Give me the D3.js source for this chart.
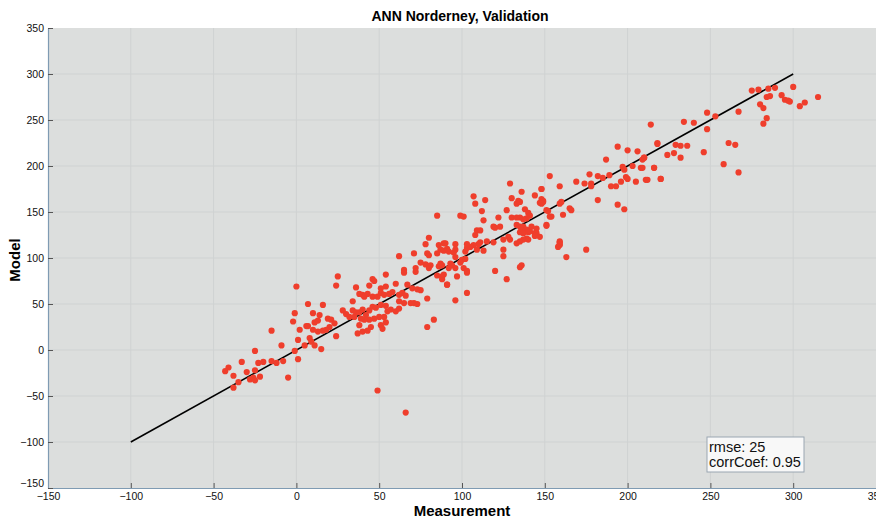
<!DOCTYPE html>
<html>
<head>
<meta charset="utf-8">
<script src="https://cdn.jsdelivr.net/npm/d3@7"></script>
<style>
  body { margin: 0; background: #fff; }
  svg { display: block; }
</style>
</head>
<body>
<div id="container"></div>
<script>
const measurement = [
  7, 16, -1, 10, 14, -2, 6, 7, 11, 13, 19, 20, 18, 16, 13, 10, 2, -15,
  1, 8, 9, 5, 11, 15, -9, -25, -1, 1, -33, -23, -20, -15, -12, -8, -41, -43,
  -30, -25, -22, -28, -26, -25, -38, -35, -38, -5,
  78, 86, 90, 91, 62, 71, 79, 80, 85, 75, 78, 81, 80, 86, 87, 65, 72, 83, 49, 66,
  85, 88, 91, 88, 0, 85, 80,
  25, 46, 47, 54, 65, 72,
  24, 36, 44, 51, 54, 60, 67, 70, 73, 75, 79,
  34, 38, 40, 41, 43, 46, 49, 51, 53, 56, 58, 62, 64, 66, 69, 71, 73, 65, 62,
  28, 30, 34, 36, 38, 40, 42, 44, 46, 48, 51, 54, 55, 57, 60, 62, 53, 50, 47, 44, 41, 39, 35, 32,
  21, 23, 38, 45, 51, 54, 52,
  40, 37, 43, 24, 79,
  129, 107, 108, 114, 99, 101, 112, 113, 109, 111, 108, 130, 134, 133, 135, 136, 144, 148, 147, 149,
  138, 127, 140, 141, 139, 137, 135, 130, 133, 122, 119, 120, 123, 133, 135, 137, 139, 136, 135, 137,
  140, 141, 142, 145, 144, 145, 139, 137, 140, 133, 135, 144, 147, 151, 154, 159, 159, 159, 151, 129,
  128, 125, 125, 125, 119, 115, 111, 110, 107, 105, 103, 113, 109, 103, 102, 96, 96, 95, 96, 89,
  87, 89, 92, 93, 94, 96, 92, 100, 102, 101, 103, 103, 99, 88, 89, 97, 91, 103, 96, 120,
  127, 135, 136,
  194, 200, 206, 187, 210, 209, 218, 197, 198, 203, 208, 216, 177, 182, 185, 189, 169, 174, 178, 178,
  196, 199, 200, 205, 211, 220, 190, 193, 153, 159, 148, 148, 149, 148, 160, 182, 152, 153, 151, 161,
  165, 166, 194, 198, 159, 159, 158, 163, 175,
  248, 253, 267, 214, 234, 240, 248, 218, 229, 232, 236, 224, 228, 232, 246, 210, 209, 216, 212, 220,
  261, 265, 258, 267,
  275, 279, 285, 289, 300, 284, 286, 280, 293, 295, 297, 298, 307, 304, 315, 282, 284, 282
];
const model = [
  50, 49, 40, 40, 38, 31, 26, 26, 30, 32, 34, 25, 22, 21, 20, 22, 22, 21,
  11, 13, 9, 5, 5, 1, 5, -1, -1, -10, -13, -14, -13, -12, -14, -12, -19, -23,
  -24, -22, -29, -32, -30, -33, -28, -35, -41, -30,
  115, 114, 116, 110, 102, 105, 105, 103, 105, 95, 93, 92, 89, 91, 94, 87, 89, 33, -44, -68,
  81, 80, 71, 77, 69, 146, 122,
  80, 77, 75, 82, 84, 85,
  70, 68, 70, 67, 69, 72, 71, 67, 66, 65, 56,
  53, 61, 60, 58, 61, 58, 58, 62, 60, 61, 63, 60, 62, 59, 51, 51, 50, 51, 53,
  43, 39, 43, 41, 41, 44, 38, 43, 47, 46, 49, 48, 42, 44, 42, 45, 36, 36, 34, 33, 33, 34, 36, 36,
  33, 29, 27, 25, 27, 30, 23,
  20, 18, 21, 15, 25,
  181, 167, 159, 163, 146, 145, 151, 141, 130, 130, 125, 165, 162, 159, 161, 172, 168, 175, 160, 162,
  153, 152, 149, 146, 143, 142, 144, 144, 144, 144, 134, 133, 134, 136, 134, 134, 131, 130, 128, 127,
  128, 129, 134, 132, 127, 127, 121, 120, 120, 116, 118, 124, 123, 136, 145, 159, 118, 114, 152, 120,
  123, 120, 109, 102, 117, 118, 117, 115, 114, 112, 111, 108, 109, 115, 107, 115, 109, 106, 101, 116,
  109, 108, 107, 94, 92, 89, 89, 98, 99, 89, 86, 84, 95, 92, 82, 80, 71, 62, 54, 86,
  77, 90, 92,
  221, 217, 216, 207, 209, 207, 224, 199, 196, 200, 198, 198, 191, 189, 187, 190, 183, 181, 181, 178,
  183, 188, 186, 183, 185, 186, 178, 178, 189, 178, 175, 164, 161, 159, 161, 163, 151, 145, 135, 147,
  154, 152, 158, 153, 117, 115, 112, 101, 109,
  258, 254, 259, 245, 248, 247, 240, 225, 223, 222, 222, 212, 214, 209, 215, 209, 198, 198, 185, 186,
  225, 223, 202, 193,
  282, 283, 284, 285, 286, 275, 276, 267, 277, 272, 271, 270, 269, 265, 275, 263, 252, 246
];
const xTicks = [-150, -100, -50, 0, 50, 100, 150, 200, 250, 300, 350];
const yTicks = [-150, -100, -50, 0, 50, 100, 150, 200, 250, 300, 350];
const fitLine = [-100, 300];
const statLines = ['rmse: 25', 'corrCoef: 0.95'];

const W = 876, H = 518;
const plotL = 48, plotR = 876, plotT = 28, plotB = 488;
const font = '"Liberation Sans", Arial, sans-serif';

const svg = d3.select('#container').append('svg')
  .attr('width', W)
  .attr('height', H);

const x = d3.scaleLinear().domain([-150, 350]).range([plotL, plotR]);
const y = d3.scaleLinear().domain([-150, 350]).range([plotB, plotT]);

// plot background
svg.append('rect')
  .attr('x', plotL).attr('y', plotT)
  .attr('width', plotR - plotL).attr('height', plotB - plotT)
  .attr('fill', '#dcdedd');

// grid
svg.append('g').selectAll('line').data(xTicks.slice(1, -1)).enter().append('line')
  .attr('x1', d => x(d)).attr('x2', d => x(d))
  .attr('y1', plotT).attr('y2', plotB)
  .attr('stroke', '#cfd2d2').attr('stroke-width', 1);
svg.append('g').selectAll('line').data(yTicks.slice(1, -1)).enter().append('line')
  .attr('x1', plotL).attr('x2', plotR)
  .attr('y1', d => y(d)).attr('y2', d => y(d))
  .attr('stroke', '#cfd2d2').attr('stroke-width', 1);

// axes
const xAxis = svg.append('g')
  .attr('transform', `translate(0,${plotB})`)
  .call(d3.axisBottom(x).tickValues(xTicks).tickSizeInner(-5).tickSizeOuter(0).tickPadding(5));
const yAxis = svg.append('g')
  .attr('transform', `translate(${plotL},0)`)
  .call(d3.axisLeft(y).tickValues(yTicks).tickSizeInner(-5).tickSizeOuter(0).tickPadding(4));
[xAxis, yAxis].forEach(a => {
  a.select('.domain').attr('stroke', '#7f9bb3').attr('stroke-width', 1.2);
  a.selectAll('.tick line').attr('stroke', '#555');
  a.selectAll('.tick text').attr('fill', '#111')
    .style('font-family', font).style('font-size', '10.5px');
});
// corner label sits a little higher, as in the original
yAxis.selectAll('.tick text').filter(d => d === -150).attr('dy', '-0.1em');

// 1:1 line
svg.append('line')
  .attr('x1', x(fitLine[0])).attr('y1', y(fitLine[0]))
  .attr('x2', x(fitLine[1])).attr('y2', y(fitLine[1]))
  .attr('stroke', '#000').attr('stroke-width', 1.6);

// points
const pts = measurement.map((m, i) => ({ m: m, v: model[i] }));
svg.append('g').selectAll('circle').data(pts).enter().append('circle')
  .attr('cx', d => x(d.m))
  .attr('cy', d => y(d.v))
  .attr('r', 3.1)
  .attr('fill', '#ef3e2c');

// stats box
const box = svg.append('g').attr('transform', 'translate(707,437)');
box.append('rect')
  .attr('width', 97).attr('height', 35)
  .attr('fill', '#f8f8f8').attr('stroke', '#9aa6b2').attr('stroke-width', 1);
box.selectAll('text').data(statLines).enter().append('text')
  .attr('x', 2).attr('y', (d, i) => 14.5 + i * 15)
  .style('font-family', font).style('font-size', '14.5px')
  .attr('fill', '#111')
  .text(d => d);

// titles
svg.append('text')
  .attr('x', 460).attr('y', 21)
  .attr('text-anchor', 'middle')
  .style('font-family', font).style('font-size', '14px').style('font-weight', 'bold')
  .text('ANN Norderney, Validation');
svg.append('text')
  .attr('x', 462).attr('y', 516)
  .attr('text-anchor', 'middle')
  .style('font-family', font).style('font-size', '15px').style('font-weight', 'bold')
  .text('Measurement');
svg.append('text')
  .attr('transform', 'translate(20,260) rotate(-90)')
  .attr('text-anchor', 'middle')
  .style('font-family', font).style('font-size', '15px').style('font-weight', 'bold')
  .text('Model');
</script>
</body>
</html>
